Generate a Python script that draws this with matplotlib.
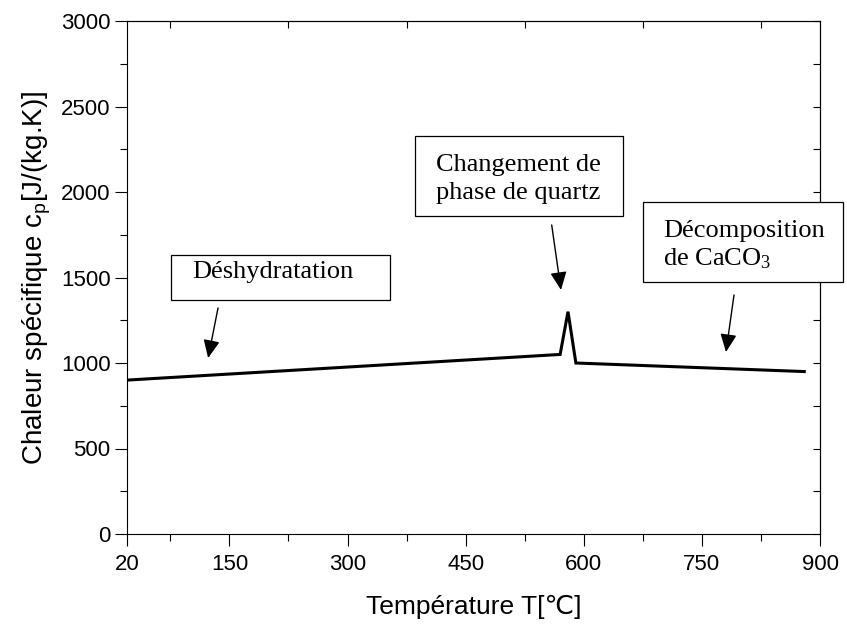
import matplotlib
matplotlib.use('Agg')
import matplotlib.pyplot as plt
from matplotlib.patches import Rectangle
from matplotlib.ticker import MultipleLocator, FixedLocator

# data
temp = [20, 570, 580, 590, 880]
cp = [900, 1050, 1300, 1000, 950]
xticks = [20, 150, 300, 450, 600, 750, 900]
yticks = [0, 500, 1000, 1500, 2000, 2500, 3000]
xminor = [75, 225, 375, 525, 675, 825]

SANS = ['Liberation Sans', 'DejaVu Sans']
SERIF = ['Liberation Serif', 'DejaVu Serif']
plt.rcParams['font.family'] = SANS

fig = plt.figure(figsize=(8.47, 6.24), dpi=100)
ax = fig.add_axes([127 / 847, 90 / 624, 693 / 847, 513 / 624])

ax.plot(temp, cp, color='black', lw=2.2, solid_joinstyle='miter')

ax.set_xlim(20, 900)
ax.set_ylim(0, 3000)
ax.set_xticks(xticks)
ax.set_yticks(yticks)
ax.xaxis.set_minor_locator(FixedLocator(xminor))
ax.yaxis.set_minor_locator(MultipleLocator(250))
ax.tick_params(which='major', direction='out', length=8.4, width=0.8,
               labelsize=16)
ax.tick_params(axis='x', which='major', pad=6)
ax.tick_params(which='minor', direction='out', length=4.8, width=0.8)
for sp in ax.spines.values():
    sp.set_linewidth(0.8)

# top / right: minor ticks only, pointing inward
axt = ax.secondary_xaxis('top')
axt.set_xticks([])
axt.xaxis.set_minor_locator(FixedLocator(xminor))
axt.tick_params(which='minor', direction='in', length=4.8, width=0.8)
axt.spines['top'].set_linewidth(0.8)
axr = ax.secondary_yaxis('right')
axr.set_yticks([])
axr.yaxis.set_minor_locator(MultipleLocator(250))
axr.tick_params(which='minor', direction='in', length=4.8, width=0.8)
axr.spines['right'].set_linewidth(0.8)

ax.set_xlabel('Température T[\u2103]', fontsize=19, labelpad=14)
ax.set_ylabel(r'Chaleur spécifique c$\mathregular{_p}$[J/(kg.K)]',
              fontsize=20, labelpad=6)

# annotation boxes (data coordinates)
boxes = [
    ((75.9, 1368), 278.1, 264, [(102.5, 1497, 'Déshydratation')]),
    ((385.7, 1860), 264.1, 467, [(412.4, 2123, 'Changement de'),
                                 (412.4, 1959, 'phase de quartz')]),
    ((675.2, 1474), 254.0, 468, [(700.6, 1737, 'Décomposition'),
                                 (700.6, 1573, r'de CaCO$\mathregular{_3}$')]),
]
for (x0, y0), w, h, lines in boxes:
    ax.add_patch(Rectangle((x0, y0), w, h, fill=True, facecolor='white',
                           edgecolor='black', lw=0.9, clip_on=False, zorder=4))
    for tx, ty, s in lines:
        ax.text(tx, ty, s, family=SERIF, fontsize=19, va='baseline',
                ha='left', zorder=5, clip_on=False)

arrows = [((135.6, 1322), (123, 1029)),
          ((559.3, 1807), (571.1, 1427)),
          ((790.8, 1398), (780.6, 1064))]
for tail, tip in arrows:
    ax.annotate('', xy=tip, xytext=tail,
                arrowprops=dict(arrowstyle='-|>,head_length=1.1,head_width=0.5',
                                color='black', lw=1.0, shrinkA=0, shrinkB=0))

fig.savefig('out.png', dpi=100)
